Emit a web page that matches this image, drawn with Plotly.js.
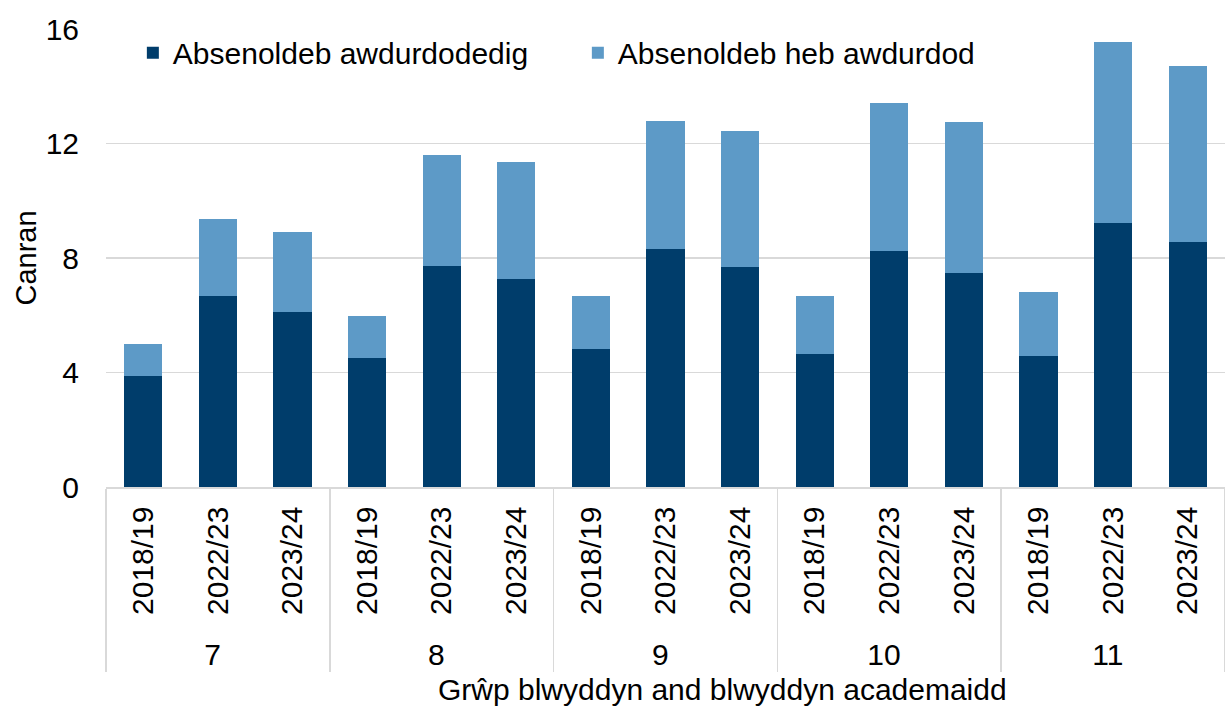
<!DOCTYPE html>
<html>
<head>
<meta charset="utf-8">
<script src="https://cdn.plot.ly/plotly-3.0.1.min.js"></script>
<style>
html,body{margin:0;padding:0;background:#fff;}
#chart{width:1225px;height:708px;}
</style>
</head>
<body>
<div id="chart"></div>
<script>
// Data
var yearGroups = ['7', '8', '9', '10', '11'];
var academicYears = ['2018/19', '2022/23', '2023/24'];
var authorised = [3.89, 6.67, 6.12, 4.49, 7.73, 7.28, 4.81, 8.33, 7.67, 4.63, 8.26, 7.49, 4.59, 9.21, 8.56];
var unauthorised = [1.12, 2.70, 2.79, 1.50, 3.88, 4.06, 1.88, 4.47, 4.78, 2.05, 5.17, 5.25, 2.22, 6.35, 6.14];
var seriesNames = ['Absenoldeb awdurdodedig', 'Absenoldeb heb awdurdod'];
var yTicks = [0, 4, 8, 12, 16];
var xTitle = 'Grŵp blwyddyn and blwyddyn academaidd';

var outer = [], inner = [];
yearGroups.forEach(function (g) {
  academicYears.forEach(function (y) { outer.push(g); inner.push(y); });
});

var FONT = 'Liberation Sans, Arial, sans-serif';

var traces = [
  {type: 'bar', name: seriesNames[0], x: [outer, inner], y: authorised,
   marker: {color: '#003d6b', line: {width: 0}}, hoverinfo: 'y'},
  {type: 'bar', name: seriesNames[1], x: [outer, inner], y: unauthorised,
   marker: {color: '#5d9ac7', line: {width: 0}}, hoverinfo: 'y'}
];

var layout = {
  width: 1225, height: 708,
  barmode: 'stack', bargap: 0.49,
  paper_bgcolor: '#fff', plot_bgcolor: '#fff',
  margin: {l: 106, r: 0, t: 29, b: 221, pad: 0},
  font: {family: FONT, size: 30, color: '#000'},
  showlegend: true,
  legend: {orientation: 'h', x: 0.024, xanchor: 'left', y: 1.005, yanchor: 'top',
           font: {family: FONT, size: 30, color: '#000'}, bgcolor: 'rgba(0,0,0,0)',
           entrywidth: 400, entrywidthmode: 'pixels', traceorder: 'normal'},
  xaxis: {
    type: 'multicategory',
    tickangle: -90,
    showline: true, linecolor: '#d9d9d9', linewidth: 1.5,
    showdividers: true, dividercolor: '#d9d9d9', dividerwidth: 1.5,
    ticks: '', showgrid: false, zeroline: false,
    ticklabelstandoff: 6,
    tickfont: {family: FONT, size: 30, color: '#000'},
    automargin: false
  },
  yaxis: {
    range: [0, 16], tickvals: yTicks, ticktext: yTicks.map(String),
    showgrid: true, gridcolor: '#d9d9d9', gridwidth: 1.5,
    showline: false, zeroline: false, ticks: '',
    ticklabelstandoff: 26,
    tickfont: {family: FONT, size: 30, color: '#000'},
    title: {text: 'Canran', font: {family: FONT, size: 29, color: '#000'}, standoff: 0},
    automargin: false
  },
  annotations: [{
    text: xTitle, xref: 'paper', yref: 'paper', x: 0.551, y: -0.443,
    xanchor: 'center', yanchor: 'middle', showarrow: false,
    font: {family: FONT, size: 30, color: '#000'}
  }]
};

Plotly.newPlot('chart', traces, layout, {displayModeBar: false, staticPlot: true});
</script>
</body>
</html>
